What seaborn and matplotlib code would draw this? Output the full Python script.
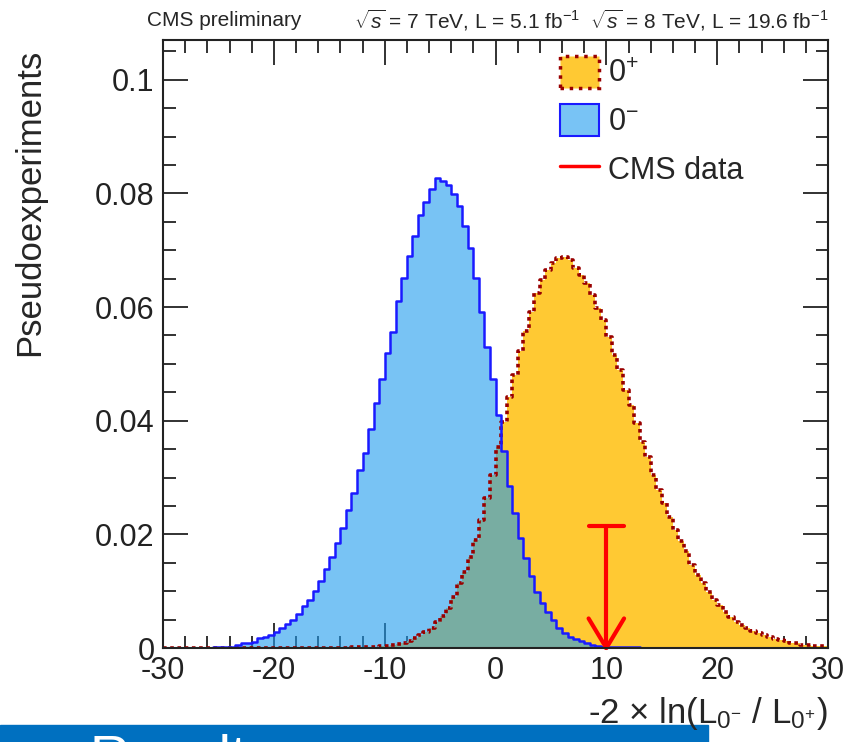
import numpy as np
import pandas as pd
import seaborn as sns
import matplotlib
matplotlib.use("Agg")
import matplotlib.pyplot as plt
from matplotlib.patches import Patch, Rectangle
from matplotlib.lines import Line2D
from matplotlib.ticker import MultipleLocator, FuncFormatter

# histogram binning, -30 .. 30 in steps of 0.5
bin_width = 0.5
bin_range = (-30.0, 30.0)
bin_centers = np.arange(-30.0, 30.0, bin_width) + bin_width / 2

# 0- hypothesis, values per bin
ps_values = [
    0, 0, 0, 0, 0, 0, 0, 0, 0, 0.0001,
    0.0001, 0.0001, 0.0002, 0.0005, 0.0008, 0.0008, 0.0011, 0.0017, 0.0020, 0.0023,
    0.0029, 0.0036, 0.0042, 0.0050, 0.0060, 0.0074, 0.0085, 0.0101, 0.0118, 0.0139,
    0.0161, 0.0185, 0.0211, 0.0242, 0.0273, 0.0313, 0.0344, 0.0385, 0.0431, 0.0473,
    0.0519, 0.0556, 0.0610, 0.0651, 0.0690, 0.0725, 0.0762, 0.0785, 0.0808, 0.0827,
    0.0821, 0.0815, 0.0799, 0.0777, 0.0742, 0.0704, 0.0651, 0.0592, 0.0530, 0.0473,
    0.0410, 0.0346, 0.0285, 0.0238, 0.0194, 0.0158, 0.0126, 0.0099, 0.0080, 0.0064,
    0.0049, 0.0035, 0.0026, 0.0020, 0.0016, 0.0012, 0.0009, 0.0006, 0.0003, 0.0002,
    0.0001, 0.0001, 0.0001, 0.0001, 0.0001, 0.0001, 0, 0, 0, 0,
    0, 0, 0, 0, 0, 0, 0, 0, 0, 0,
    0, 0, 0, 0, 0, 0, 0, 0, 0, 0,
    0, 0, 0, 0, 0, 0, 0, 0, 0, 0,
]

# 0+ hypothesis
sm_values = [
    0, 0, 0, 0, 0, 0, 0, 0, 0, 0,
    0, 0, 0, 0, 0, 0, 0, 0, 0, 0,
    0, 0, 0, 0, 0, 0, 0, 0, 0, 0,
    0, 0, 0, 0, 0.0001, 0.0001, 0.0001, 0.0002, 0.0002, 0.0003,
    0.0004, 0.0005, 0.0007, 0.0009, 0.0013, 0.0017, 0.0022, 0.0028, 0.0036, 0.0045,
    0.0056, 0.0070, 0.0090, 0.0114, 0.0134, 0.0161, 0.0190, 0.0225, 0.0264, 0.0305,
    0.0354, 0.0398, 0.0442, 0.0481, 0.0522, 0.0557, 0.0592, 0.0624, 0.0647, 0.0665,
    0.0677, 0.0686, 0.0688, 0.0683, 0.0668, 0.0657, 0.0642, 0.0621, 0.0598, 0.0577,
    0.0548, 0.0516, 0.0489, 0.0454, 0.0428, 0.0396, 0.0363, 0.0337, 0.0305, 0.0278,
    0.0255, 0.0231, 0.0208, 0.0189, 0.0170, 0.0146, 0.0129, 0.0114, 0.0099, 0.0085,
    0.0076, 0.0064, 0.0055, 0.0046, 0.0040, 0.0035, 0.0030, 0.0026, 0.0022, 0.0019,
    0.0015, 0.0014, 0.0012, 0.0009, 0.0008, 0.0006, 0.0005, 0.0004, 0.0004, 0.0004,
]

# observed value and arrow height
data_value = 10.0
arrow_top = 0.0215

yellow = "#ffc933"
darkred = "#990000"
blue_line = "#1a1aff"
blue_fill = "#1e9bee"

sns.set_style("ticks")
plt.rcParams["font.family"] = ["Liberation Sans", "DejaVu Sans"]
plt.rcParams["axes.unicode_minus"] = False
plt.rcParams["mathtext.fontset"] = "custom"
plt.rcParams["mathtext.rm"] = "Liberation Sans"
plt.rcParams["mathtext.it"] = "Liberation Sans:italic"
plt.rcParams["mathtext.bf"] = "Liberation Sans:bold"

df = pd.DataFrame({"x": bin_centers, "sm": sm_values, "ps": ps_values})
hist_kw = dict(data=df, x="x", binwidth=bin_width, binrange=bin_range, element="step")

fig = plt.figure(figsize=(8.47, 7.42), dpi=100)
ax = fig.add_axes([163 / 847, 94 / 742, 665 / 847, 608 / 742])

# fills
sns.histplot(weights="sm", fill=True, color=yellow, alpha=1.0, linewidth=0, ax=ax, **hist_kw)
sns.histplot(weights="ps", fill=True, color=blue_fill, alpha=0.6, linewidth=0, ax=ax, **hist_kw)
# outlines
sns.histplot(weights="sm", fill=False, color=darkred, linewidth=2.6,
             linestyle=(0, (1, 1)), ax=ax, **hist_kw)
sns.histplot(weights="ps", fill=False, color=blue_line, linewidth=1.8, ax=ax, **hist_kw)

# CMS data arrow
ax.plot([data_value, data_value], [0, arrow_top], color="red", lw=3, clip_on=False)
ax.plot([data_value - 1.6, data_value + 1.6], [arrow_top, arrow_top], color="red", lw=3)
ax.plot([data_value - 1.6, data_value, data_value + 1.6], [0.0052, 0, 0.0052],
        color="red", lw=3, clip_on=False)

ax.set_xlim(-30, 30)
ax.set_ylim(0, 0.107)
ax.xaxis.set_major_locator(MultipleLocator(10))
ax.xaxis.set_minor_locator(MultipleLocator(2))
ax.yaxis.set_major_locator(MultipleLocator(0.02))
ax.yaxis.set_minor_locator(MultipleLocator(0.005))
ax.yaxis.set_major_formatter(FuncFormatter(lambda v, p: f"{v:g}"))
ax.tick_params(which="both", direction="in", top=True, right=True, colors="#222222")
ax.tick_params(which="major", length=18, width=1.3, labelsize=22, pad=6)
ax.tick_params(which="minor", length=9, width=1.3)
for s in ax.spines.values():
    s.set_linewidth(1.5)
    s.set_color("#222222")

ax.set_ylabel("Pseudoexperiments", fontsize=25, loc="top")
ax.yaxis.set_label_coords(-0.175, 0.985)
ax.set_xlabel(r"-2 × ln(L$_{0^{-}}$ / L$_{0^{+}}$)", fontsize=25, loc="right")
ax.xaxis.set_label_coords(1.0, -0.078)

handles = [
    Patch(facecolor=yellow, edgecolor=darkred, linestyle=":", linewidth=2.5),
    Patch(facecolor="#78c3f5", edgecolor=blue_line, linewidth=1.5),
    Line2D([], [], color="red", lw=2.5),
]
ax.legend(handles, [r"0$^{+}$", r"0$^{-}$", "CMS data"],
          loc="upper left", bbox_to_anchor=(560 / 847, 1 - 56 / 742),
          bbox_transform=fig.transFigure, frameon=False, borderpad=0,
          borderaxespad=0, handlelength=1.28, handleheight=1.21,
          labelspacing=0.5, handletextpad=0.3, fontsize=22)

fig.text(147 / 847, 1 - 20 / 742, "CMS preliminary", fontsize=15, va="center")
fig.text(828 / 847, 1 - 20 / 742,
         r"$\sqrt{s}$ = 7 TeV, L = 5.1 fb$^{-1}$  $\sqrt{s}$ = 8 TeV, L = 19.6 fb$^{-1}$",
         fontsize=15, va="center", ha="right")

# slide banner at the bottom
fig.patches.append(Rectangle((0, 0), 708 / 847, 17 / 742, transform=fig.transFigure,
                             color="#0070c0", zorder=-1))
fig.text(89 / 847, 1 - 733 / 742, "Results", color="white", fontsize=40,
         va="top", zorder=6)

fig.savefig("out.png", dpi=100)
